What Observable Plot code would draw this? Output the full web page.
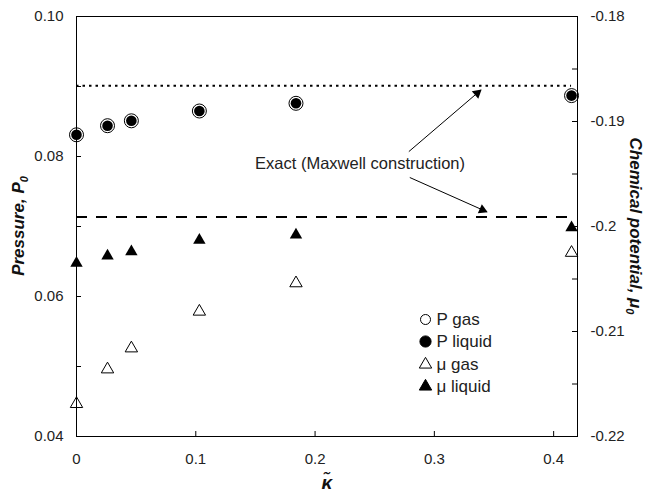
<!DOCTYPE html>
<html>
<head>
<meta charset="utf-8">
<script src="https://cdn.jsdelivr.net/npm/d3@7"></script>
<script src="https://cdn.jsdelivr.net/npm/@observablehq/plot@0.6"></script>
<style>
  body { margin: 0; background: #fff; }
  #chart { width: 646px; height: 498px; }
  #chart svg { display: block; }
</style>
</head>
<body>
<div id="chart"></div>
<script>
// Gradient coefficient (kappa tilde) and the coexistence results at each value
const kappa = [0, 0.026, 0.046, 0.103, 0.184, 0.415];
const pGas = [0.0831, 0.0844, 0.0851, 0.0865, 0.0876, 0.0887];
const pLiquid = [0.0831, 0.0844, 0.0851, 0.0865, 0.0876, 0.0887];
const muGas = [-0.2169, -0.2136, -0.2116, -0.2081, -0.2054, -0.2025];
const muLiquid = [-0.2035, -0.2028, -0.2024, -0.2013, -0.2008, -0.2001];

// Exact values from the Maxwell construction
const pExact = 0.0901;
const muExact = -0.1991;

const seriesNames = ["P gas", "P liquid", "\u03bc gas", "\u03bc liquid"];
const annotationText = "Exact (Maxwell construction)";

// Axis ticks
const xTicks = [0, 0.1, 0.2, 0.3, 0.4];
const pTicks = [0.04, 0.06, 0.08, 0.10];
const pMinorTicks = [0.05, 0.07, 0.09];
const muTicks = [-0.22, -0.21, -0.2, -0.19, -0.18];
const muMinorTicks = [-0.215, -0.205, -0.195, -0.185];

// Layout
const W = 646, H = 498;
const M = {top: 16, right: 69, bottom: 62, left: 76};
const plotW = W - M.left - M.right;
const plotH = H - M.top - M.bottom;
const xDomain = [0, 0.42];
const pDomain = [0.04, 0.10];
const muDomain = [-0.22, -0.18];
const font = "'Liberation Sans', Arial, sans-serif";
const tickLen = 5;

// The chemical potential is drawn against the right-hand axis, which shares the
// vertical extent with the pressure axis.
const muToP = m => pDomain[0] + (m - muDomain[0]) * (pDomain[1] - pDomain[0]) / (muDomain[1] - muDomain[0]);
const pToMu = p => muDomain[0] + (p - pDomain[0]) * (muDomain[1] - muDomain[0]) / (pDomain[1] - pDomain[0]);

const rows = kappa.map((k, i) => ({
  k, pGas: pGas[i], pLiquid: pLiquid[i], muGas: muGas[i], muLiquid: muLiquid[i]
}));

// Pixel <-> data helpers with the same domains and ranges as the chart
const sx = Plot.scale({x: {domain: xDomain, range: [M.left, W - M.right]}});
const sy = Plot.scale({y: {domain: pDomain, range: [H - M.bottom, M.top]}});

// Annotation arrows (from the label towards the two exact lines)
const arrows = [
  {x1: 0.2786, y1: 0.0807, x2: 0.339, y2: 0.0895},
  {x1: 0.2794, y1: 0.0770, x2: 0.344, y2: 0.0721}
].map(a => {
  const X1 = sx.apply(a.x1), Y1 = sy.apply(a.y1), X2 = sx.apply(a.x2), Y2 = sy.apply(a.y2);
  const len = Math.hypot(X2 - X1, Y2 - Y1);
  const ux = (X2 - X1) / len, uy = (Y2 - Y1) / len;
  const back = 4.8;
  return {
    ...a,
    hx: sx.invert(X2 - ux * back),
    hy: sy.invert(Y2 - uy * back),
    angle: Math.atan2(X2 - X1, -(Y2 - Y1)) * 180 / Math.PI
  };
});

// Legend entries, placed in the lower right of the plotting area
const legendX = sx.invert(M.left + 349);
const legendTextX = sx.invert(M.left + 360);
const legend = [
  {name: seriesNames[0], symbol: "circle", r: 5, fill: "white", py: 319},
  {name: seriesNames[1], symbol: "circle", r: 5.6, fill: "black", py: 341},
  {name: seriesNames[2], symbol: "triangle", r: 4.6, fill: "white", py: 364},
  {name: seriesNames[3], symbol: "triangle", r: 4.6, fill: "black", py: 386}
].map(d => ({...d, y: sy.invert(d.py)}));

const xTickTop = sy.invert(H - M.bottom - tickLen);

const chart = Plot.plot({
  width: W,
  height: H,
  marginTop: M.top,
  marginRight: M.right,
  marginBottom: M.bottom,
  marginLeft: M.left,
  style: {fontFamily: font, fontSize: "15px", background: "white", color: "#222"},
  x: {domain: xDomain},
  y: {domain: pDomain},
  r: {type: "identity"},
  marks: [
    // inward tick marks
    Plot.ruleY([...pTicks, ...pMinorTicks], {x1: xDomain[0], x2: xDomain[1], insetRight: plotW - tickLen, stroke: "black"}),
    Plot.ruleY([...muTicks, ...muMinorTicks], {y: muToP, x1: xDomain[0], x2: xDomain[1], insetLeft: plotW - tickLen, stroke: "black"}),
    Plot.ruleX(xTicks, {y1: pDomain[0], y2: xTickTop, stroke: "black"}),

    // tick labels
    Plot.axisX({ticks: xTicks, tickSize: 0, tickPadding: 17, tickFormat: d => String(d), label: null, fill: "#222"}),
    Plot.axisY({anchor: "left", ticks: pTicks, tickSize: 0, tickPadding: 13, tickFormat: d3.format(".2f"), label: null, fill: "#222"}),
    Plot.axisY({anchor: "right", ticks: muTicks.map(muToP), tickSize: 0, tickPadding: 13,
      tickFormat: p => String(+pToMu(p).toFixed(2)), label: null, fill: "#222"}),

    // exact (Maxwell construction) levels
    Plot.ruleY([pExact], {x1: 0, x2: kappa[kappa.length - 1], stroke: "black", strokeWidth: 2, strokeDasharray: "2.5,4"}),
    Plot.ruleY([muExact], {y: muToP, x1: 0, x2: kappa[kappa.length - 1], stroke: "black", strokeWidth: 2, strokeDasharray: "11,9"}),

    // annotation
    Plot.text([annotationText], {x: 0.2377, y: 0.0789, text: d => d, fontSize: 16.5, fill: "#222"}),
    Plot.link(arrows, {x1: "x1", y1: "y1", x2: "x2", y2: "y2", stroke: "black", strokeWidth: 1}),
    Plot.dot(arrows, {x: "hx", y: "hy", symbol: "triangle", r: 3.7, rotate: "angle", fill: "black", stroke: "none"}),

    // data
    Plot.dot(rows, {x: "k", y: "pGas", r: 7, fill: "white", stroke: "black", strokeWidth: 1}),
    Plot.dot(rows, {x: "k", y: "pLiquid", r: 5.3, fill: "black", stroke: "none"}),
    Plot.dot(rows, {x: "k", y: d => muToP(d.muGas), symbol: "triangle", r: 4.6, fill: "white", stroke: "black", strokeWidth: 1}),
    Plot.dot(rows, {x: "k", y: d => muToP(d.muLiquid), symbol: "triangle", r: 4.6, fill: "black", stroke: "none"}),

    // legend
    Plot.dot(legend, {x: () => legendX, y: "y", symbol: "symbol", r: "r", fill: "fill", stroke: "black", strokeWidth: 1}),
    Plot.text(legend, {x: () => legendTextX, y: "y", text: "name", textAnchor: "start", fontSize: 17, fill: "#222"}),

    Plot.frame({stroke: "black", strokeWidth: 1})
  ]
});

document.getElementById("chart").append(chart);

// Axis titles with subscripts
const svg = d3.select(chart);
const titleStyle = sel => sel
  .attr("font-family", font)
  .attr("font-weight", "bold")
  .attr("font-style", "italic")
  .attr("font-size", 17)
  .attr("fill", "#111")
  .attr("text-anchor", "middle");

const left = svg.append("text").call(titleStyle)
  .attr("transform", `translate(24,${(M.top + H - M.bottom) / 2}) rotate(-90)`);
left.append("tspan").text("Pressure, P");
left.append("tspan").attr("font-size", 11).attr("dy", 4).text("0");

const right = svg.append("text").call(titleStyle)
  .attr("transform", `translate(630,${(M.top + H - M.bottom) / 2}) rotate(90)`);
right.append("tspan").text("Chemical potential, \u03bc");
right.append("tspan").attr("font-size", 11).attr("dy", 4).text("0");

svg.append("text").call(titleStyle)
  .attr("font-size", 19)
  .attr("x", 327).attr("y", 489)
  .text("\u03ba\u0303");
</script>
</body>
</html>
